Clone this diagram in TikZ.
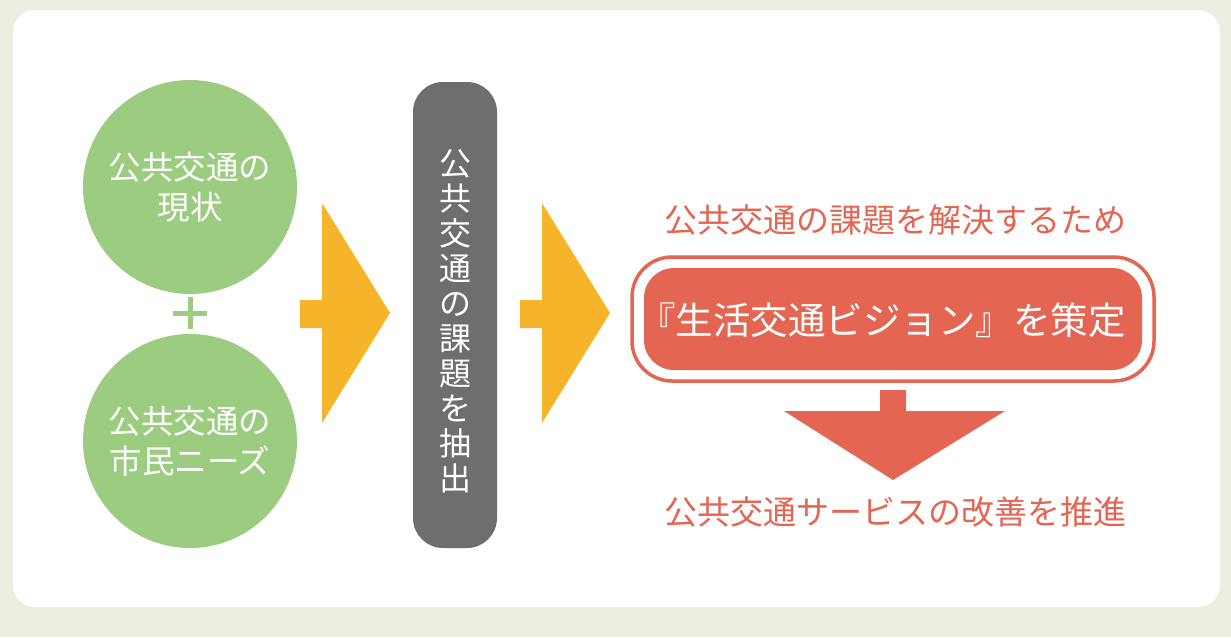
\documentclass[tikz,border=0pt]{standalone}
\usepackage{fontspec}
\setmainfont{Noto Sans CJK JP}
\definecolor{bgc}{HTML}{EBEFE0}
\definecolor{grn}{HTML}{9CCC80}
\definecolor{org}{HTML}{F6B42B}
\definecolor{gry}{HTML}{6E6E6E}
\definecolor{rd}{HTML}{E36552}
\tikzset{
  bubble/.style={circle, fill=grn, minimum size=214pt, inner sep=0pt, text=white, align=center, font=\fontsize{32.5}{40}\selectfont},
  redtext/.style={text=rd, font=\fontsize{33}{36}\selectfont},
  orangearrow/.style={fill=org, draw=none},
  redarrow/.style={fill=rd, draw=none}
}
\begin{document}
\begin{tikzpicture}[x=1pt,y=-1pt]
\useasboundingbox (0,0) rectangle (1231,637);
\fill[bgc] (0,0) rectangle (1231,637);
\fill[white, rounded corners=22pt] (13,10) rectangle (1220,607);
% circles
\node[bubble] (cur) at (190,187) {公共交通の\\現状};
\node[bubble] (need) at (190,441) {公共交通の\\市民ニーズ};
\coordinate (plus) at (190,313);
\draw[grn, line width=5pt] ([xshift=-17pt]plus) -- ([xshift=17pt]plus)
  ([yshift=-16pt]plus) -- ([yshift=16pt]plus);
% gray bar
\fill[gry, rounded corners=30pt] (413,82) rectangle (497,548);
\node[text=white, font=\fontsize{32}{35}\selectfont, align=center, inner sep=0pt] (issue) at (455,321)
  {公\\共\\交\\通\\の\\課\\題\\を\\抽\\出};
% orange arrows
\coordinate (a1) at (300,300);
\fill[orangearrow] (a1) -- (322,300) -- (322,203) -- (390,313) -- (322,423) -- (322,328) -- (300,328) -- cycle;
\coordinate (a2) at (520,300);
\fill[orangearrow] (a2) -- (542,300) -- (542,203) -- (610,313) -- (542,423) -- (542,328) -- (520,328) -- cycle;
% red part
\node[redtext] (solve) at (895,220) {公共交通の課題を解決するため};
\draw[rd, line width=3.5pt, fill=white, rounded corners=40pt] (632,257) rectangle (1154,381);
\fill[rd, rounded corners=30pt] (644,268) rectangle (1142,370);
\node[text=white, font=\fontsize{37.5}{40}\selectfont] (vision) at (882,320) {『生活交通ビジョン』を策定};
\fill[redarrow] (880,390) -- (906,390) -- (906,411) -- (1005,411) -- (893,480) -- (784,411) -- (880,411) -- cycle;
\node[redtext] (promote) at (895,512) {公共交通サービスの改善を推進};
\end{tikzpicture}
\end{document}
